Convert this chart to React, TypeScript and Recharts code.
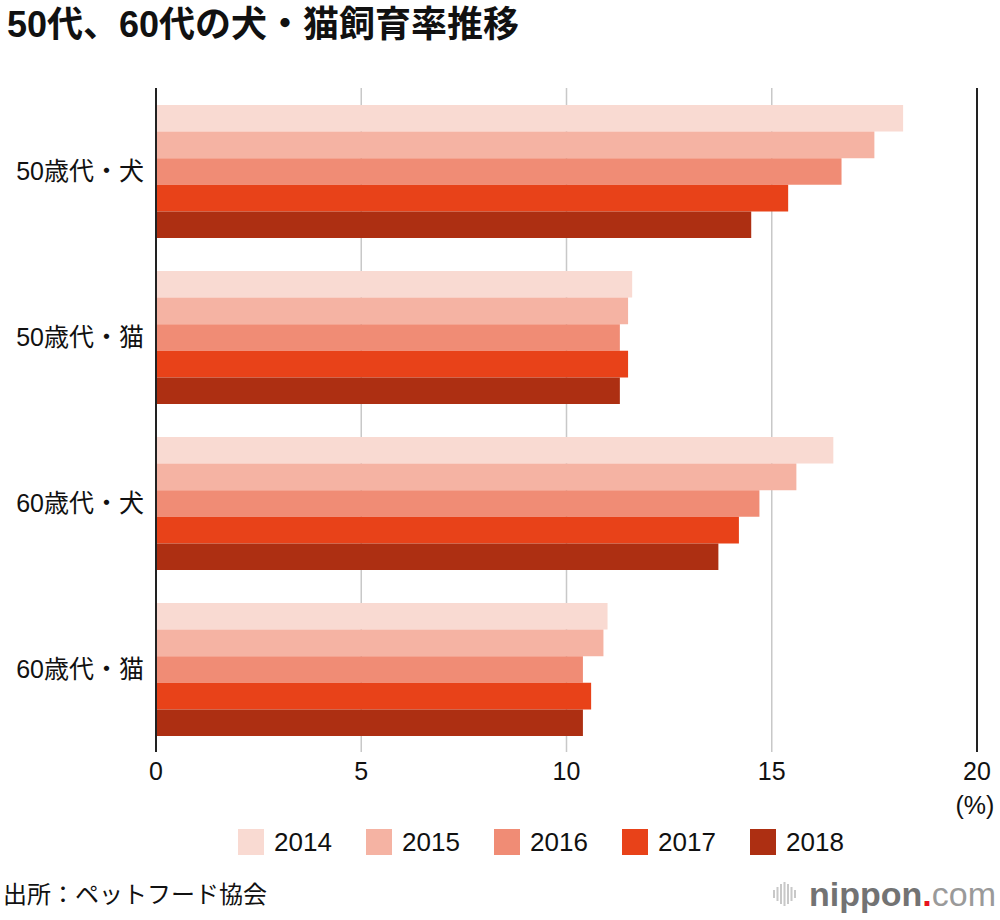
import React from "react";
import {
  BarChart,
  Bar,
  XAxis,
  YAxis,
  CartesianGrid,
  ReferenceLine,
} from "recharts";

const categories = ["50歳代・犬", "50歳代・猫", "60歳代・犬", "60歳代・猫"];
const years = ["2014", "2015", "2016", "2017", "2018"];
const v2014 = [18.2, 11.6, 16.5, 11.0];
const v2015 = [17.5, 11.5, 15.6, 10.9];
const v2016 = [16.7, 11.3, 14.7, 10.4];
const v2017 = [15.4, 11.5, 14.2, 10.6];
const v2018 = [14.5, 11.3, 13.7, 10.4];
const xTicks = [0, 5, 10, 15, 20];
const colors = ["#f9dad2", "#f5b3a3", "#f08c75", "#e84219", "#ad2f12"];

const series = [v2014, v2015, v2016, v2017, v2018];
const data = categories.map((name, i) => {
  const row: Record<string, string | number> = { name };
  years.forEach((y, j) => {
    row[y] = series[j][i];
  });
  return row;
});

const FONT = "'Liberation Sans', 'Noto Sans CJK JP', sans-serif";

function CategoryTick(props: any) {
  const { x, y, payload } = props;
  return (
    <text
      x={x}
      y={y}
      dy="0.35em"
      textAnchor="end"
      fontSize={25}
      fill="#111"
      fontFamily={FONT}
    >
      {payload.value}
    </text>
  );
}

function NipponLogo() {
  const bars = [8, 14, 20, 24, 20, 14, 8];
  return (
    <div
      style={{
        position: "absolute",
        left: 773,
        top: 874,
        display: "flex",
        alignItems: "center",
        fontFamily: FONT,
        whiteSpace: "nowrap",
      }}
    >
      <svg width={26} height={40} style={{ marginRight: 10 }}>
        {bars.map((h, i) => (
          <rect
            key={i}
            x={i * 3.5}
            y={20 - h / 2}
            width={2}
            height={h}
            fill="#c8c8c8"
          />
        ))}
      </svg>
      <span style={{ fontSize: 34, color: "#737373", fontWeight: 700, lineHeight: "40px" }}>
        nippon
      </span>
      <span style={{ fontSize: 34, color: "#e8141e", fontWeight: 700, lineHeight: "40px" }}>
        .
      </span>
      <span style={{ fontSize: 34, color: "#9a9a9a", fontWeight: 400, lineHeight: "40px" }}>
        com
      </span>
    </div>
  );
}

export default function App() {
  return (
    <div
      style={{
        position: "absolute",
        left: 0,
        top: 0,
        width: 1000,
        height: 920,
        background: "#fff",
        fontFamily: FONT,
        color: "#111",
      }}
    >
      <div
        style={{
          position: "absolute",
          left: 7,
          top: 3,
          fontSize: 36,
          fontWeight: 700,
          lineHeight: "44px",
          whiteSpace: "nowrap",
        }}
      >
        50代、60代の犬・猫飼育率推移
      </div>

      <div style={{ position: "absolute", left: 0, top: 0 }}>
        <BarChart
          width={1000}
          height={920}
          data={data}
          layout="vertical"
          margin={{ top: 88, right: 23, bottom: 138, left: 0 }}
          barSize={26.6}
          barGap={0}
        >
          <CartesianGrid
            horizontal={false}
            stroke="#c8c8c8"
            strokeWidth={1.5}
          />
          <XAxis
            type="number"
            domain={[0, 20]}
            ticks={xTicks}
            axisLine={false}
            tickLine={false}
            tickSize={0}
            tickMargin={10}
            height={30}
            tick={{ fontSize: 25, fill: "#111", fontFamily: FONT }}
          />
          <YAxis
            type="category"
            dataKey="name"
            width={156}
            axisLine={false}
            tickLine={false}
            tickSize={0}
            tickMargin={12}
            tick={<CategoryTick />}
          />
          {years.map((y, i) => (
            <Bar
              key={y}
              dataKey={y}
              fill={colors[i]}
              isAnimationActive={false}
            />
          ))}
          <ReferenceLine x={0} stroke="#222" strokeWidth={2} />
          <ReferenceLine x={20} stroke="#222" strokeWidth={2} />
        </BarChart>
      </div>

      <div
        style={{
          position: "absolute",
          left: 945,
          width: 60,
          top: 790,
          fontSize: 25,
          lineHeight: "30px",
          textAlign: "center",
        }}
      >
        (%)
      </div>

      <div
        style={{
          position: "absolute",
          left: 238,
          top: 827,
          display: "flex",
          alignItems: "center",
          height: 30,
        }}
      >
        {years.map((y, i) => (
          <div
            key={y}
            style={{ display: "flex", alignItems: "center", width: 128 }}
          >
            <span
              style={{
                display: "inline-block",
                width: 26,
                height: 26,
                background: colors[i],
                marginRight: 10,
              }}
            />
            <span style={{ fontSize: 26, lineHeight: "30px" }}>{y}</span>
          </div>
        ))}
      </div>

      <div
        style={{
          position: "absolute",
          left: 3,
          top: 880,
          fontSize: 24,
          lineHeight: "30px",
          whiteSpace: "nowrap",
        }}
      >
        出所：ペットフード協会
      </div>

      <NipponLogo />
    </div>
  );
}
